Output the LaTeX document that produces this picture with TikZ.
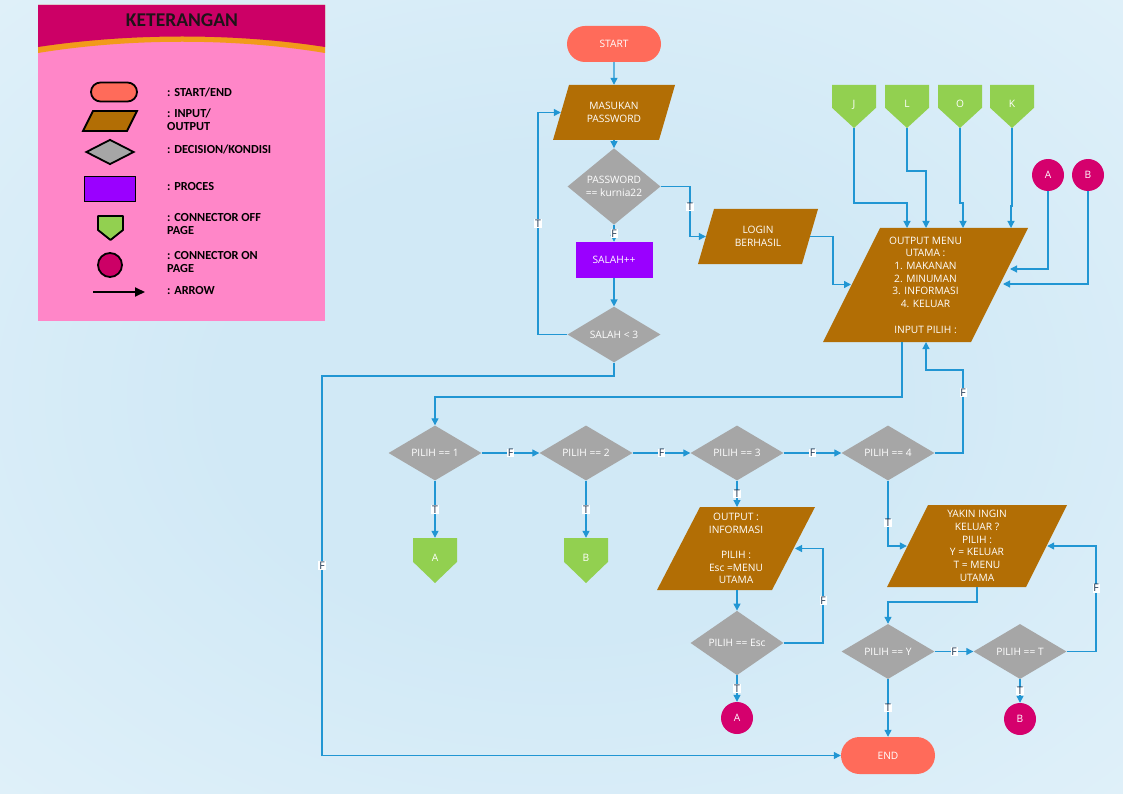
\documentclass[tikz,border=0pt]{standalone}
\usepackage{fontspec}
\setmainfont{Open Sans}
\newfontfamily\legfont{Carlito}
\usetikzlibrary{shapes.geometric,shapes.misc,arrows.meta,calc}

\definecolor{bgin}{HTML}{D1E9F6}
\definecolor{bgout}{HTML}{E9F5FC}
\definecolor{salmon}{HTML}{FF6B5A}
\definecolor{iobrown}{HTML}{B26E05}
\definecolor{grayd}{HTML}{A6A6A6}
\definecolor{purp}{HTML}{9A00FF}
\definecolor{greenc}{HTML}{92D050}
\definecolor{magc}{HTML}{D5006D}
\definecolor{linec}{HTML}{2196D3}
\definecolor{labc}{HTML}{1B3450}
\definecolor{legpink}{HTML}{FF86C8}
\definecolor{leghead}{HTML}{CC0066}
\definecolor{legorange}{HTML}{F29A1A}
\definecolor{legtext}{HTML}{1E1418}

\pgfdeclareradialshading{bgshade}{\pgfpoint{0bp}{0bp}}{%
  color(0bp)=(bgin); color(15bp)=(bgin); color(50bp)=(bgout); color(80bp)=(bgout)}

\newcommand{\mainfs}{\fontsize{10.2}{12.7}\selectfont}
\newcommand{\legfs}{\legfont\bfseries\fontsize{12.3}{13}\selectfont}

\tikzset{
  base/.style={inner sep=0pt, align=center, text=white, font=\mainfs},
  term/.style={base, rounded rectangle, fill=salmon, minimum width=94pt, minimum height=36pt},
  dec/.style={base, diamond, fill=grayd, minimum width=93pt, minimum height=55pt},
  proc/.style={base, rectangle, fill=purp, minimum width=77pt, minimum height=36pt},
  io/.style n args={3}{base, rectangle, minimum width=#1, minimum height=#2,
    path picture={\fill[iobrown]
      ([xshift=#3]path picture bounding box.north west) --
      (path picture bounding box.north east) --
      ([xshift=-#3]path picture bounding box.south east) --
      (path picture bounding box.south west) -- cycle;}},
  offp/.style={base, rectangle, minimum width=44pt, minimum height=44pt,
    path picture={\fill[greenc]
      (path picture bounding box.north west) --
      (path picture bounding box.north east) --
      ($(path picture bounding box.north east)!0.53!(path picture bounding box.south east)$) --
      (path picture bounding box.south) --
      ($(path picture bounding box.north west)!0.53!(path picture bounding box.south west)$) -- cycle;}},
  onp/.style={base, circle, fill=magc, minimum size=32pt},
  flow/.style={draw=linec, line width=1.2pt, -{Triangle[length=7pt,width=7pt]}},
  lab/.style={fill=white, inner xsep=0.8pt, inner ysep=0.6pt, text=labc, font=\fontsize{10.5}{11}\selectfont},
  legitem/.style={draw=black, line width=1.8pt},
  legtxt/.style={anchor=west, align=left, inner sep=0pt, text=black, font=\legfs},
}

\begin{document}
\begin{tikzpicture}[x=1pt,y=-1pt]
% background
\shade[shading=bgshade] (0,0) rectangle (1123,794);
\useasboundingbox (0,0) rectangle (1123,794);

% ---------- legend panel ----------
\fill[legpink] (38,5) rectangle (325,321);
\fill[legorange] (38,5) -- (325,5) -- (325,53) .. controls (235,38) and (130,38) .. (38,53) -- cycle;
\fill[leghead] (38,5) -- (325,5) -- (325,47) .. controls (235,33) and (130,33) .. (38,47) -- cycle;
\node[inner sep=0pt, text=legtext, font=\legfont\bfseries\fontsize{19.5}{20}\selectfont] (legtitle) at (182,20) {KETERANGAN};

\node[legitem, rounded rectangle, fill=salmon, minimum width=46pt, minimum height=19pt, inner sep=0pt] (lterm) at (114,92) {};
\filldraw[legitem, fill=iobrown, line join=miter] (93,111) -- (137,111) -- (127,131) -- (83,131) -- cycle;
\node[legitem, diamond, fill=grayd, minimum width=48pt, minimum height=25pt, inner sep=0pt] (ldec) at (110,152) {};
\node[legitem, rectangle, fill=purp, minimum width=51pt, minimum height=25pt, inner sep=0pt] (lproc) at (110,189) {};
\filldraw[legitem, fill=greenc, line join=round] (98,216) -- (123,216) -- (123,230) -- (110.5,240) -- (98,230) -- cycle;
\node[legitem, circle, fill=leghead, minimum size=24pt, inner sep=0pt] (lonp) at (110,265) {};
\coordinate (larrA) at (93,292);
\coordinate (larrB) at (145,292);
\draw[line width=2pt, -{Triangle[length=10pt,width=9pt]}] (larrA) -- (larrB);

\node[legtxt] (t1) at (167,92) {: START/END};
\node[legtxt] (t2) at (167,120) {: INPUT/\\OUTPUT};
\node[legtxt] (t3) at (167,149) {: DECISION/KONDISI};
\node[legtxt] (t4) at (167,187) {: PROCES};
\node[legtxt] (t5) at (167,224.5) {: CONNECTOR OFF\\PAGE};
\node[legtxt] (t6) at (167,262.5) {: CONNECTOR ON\\PAGE};
\node[legtxt] (t7) at (167,291) {: ARROW};

% ---------- login part ----------
\node[term] (start) at (614,44) {START};
\node[io={122pt}{55pt}{16pt}] (pw) at (614,112.5) {MASUKAN\\PASSWORD};
\node[dec] (dpw) at (614,186.5) {PASSWORD\\== kurnia22};
\node[proc] (salah) at (614,260) {SALAH++};
\node[dec] (dsalah) at (614,334.5) {SALAH < 3};
\node[io={120pt}{55pt}{16pt}] (login) at (758,236.5) {LOGIN\\BERHASIL};

% ---------- main menu ----------
\node[io={205pt}{114pt}{57pt}] (menu) at (925.5,285) {OUTPUT MENU\\UTAMA :\\1. MAKANAN\\2. MINUMAN\\3. INFORMASI\\4. KELUAR\\~\\INPUT PILIH :};
\node[offp, minimum height=43pt] (J) at (854,106.5) {\raisebox{6pt}{J}};
\node[offp, minimum height=43pt] (L) at (907,106.5) {\raisebox{6pt}{L}};
\node[offp, minimum height=43pt] (O) at (960,106.5) {\raisebox{6pt}{O}};
\node[offp, minimum height=43pt] (K) at (1012,106.5) {\raisebox{6pt}{K}};
\node[onp] (cA1) at (1048,175) {A};
\node[onp] (cB1) at (1088,175) {B};

% ---------- choice row ----------
\node[dec] (p1) at (435,453) {PILIH == 1};
\node[dec] (p2) at (586,453) {PILIH == 2};
\node[dec] (p3) at (737,453) {PILIH == 3};
\node[dec] (p4) at (888,453) {PILIH == 4};
\node[offp, minimum height=45pt] (offA) at (435,560.5) {\raisebox{6pt}{A}};
\node[offp, minimum height=45pt] (offB) at (586,560.5) {\raisebox{6pt}{B}};

% ---------- information branch ----------
\node[io={158pt}{83pt}{43pt}] (info) at (736,548.5) {OUTPUT :\\INFORMASI\\~\\PILIH :\\Esc =MENU\\UTAMA};
\node[dec] (desc) at (737,643) {PILIH == Esc};
\node[onp] (cA2) at (737,718) {A};

% ---------- exit branch ----------
\node[io={180pt}{82pt}{41pt}] (yakin) at (977,546) {YAKIN INGIN\\KELUAR ?\\PILIH :\\Y = KELUAR\\T = MENU\\UTAMA};
\node[dec] (dy) at (888,651.5) {PILIH == Y};
\node[dec] (dt) at (1020,651.5) {PILIH == T};
\node[onp] (cB2) at (1020,719) {B};
\node[term, minimum height=37pt] (end) at (888,755.5) {END};

% ---------- connectors: login ----------
\draw[flow] (start) -- (pw);
\draw[flow] (pw) -- (dpw);
\draw[flow] (dpw) -- node[lab]{F} (salah);
\draw[flow] (salah) -- (dsalah);
\draw[flow] (dsalah.west) -- (538,334.5) -- node[lab]{T} (538,112.5) -- ($(pw.west)+(8,0)$);
\draw[flow] (dpw.east) -- (690,186.5) -- node[lab, pos=0.41]{T} (690,236.5) -- ($(login.west)+(8,0)$);
\draw[flow] ($(login.east)+(-8,0)$) -- (833,236.5) -- (833,284.5) -- (851,284.5);
\draw[flow] (dsalah.south) -- (614,376) -- (322,376) -- node[lab]{F} (322,755.5) -- (end.west);

% ---------- connectors: menu ----------
\draw[flow] (J.south) -- (854,203) -- (907,203) -- (907,228);
\draw[flow] (L.south) -- (907,171) -- (926,171) -- (926,228);
\draw[flow] (O.south) -- (960,203) -- (963,203) -- (963,228);
\draw[flow] (K.south) -- (1012,206) -- (1011,206) -- (1011,228);
\draw[flow] (cA1.south) -- (1048,269) -- (1010,269);
\draw[flow] (cB1.south) -- (1088,284) -- (1003,284);
\draw[flow] (902,342) -- (902,397) -- (435,397) -- (p1.north);

% ---------- connectors: choices ----------
\draw[flow] (p1.east) -- node[lab]{F} (p2.west);
\draw[flow] (p2.east) -- node[lab]{F} (p3.west);
\draw[flow] (p3.east) -- node[lab]{F} (p4.west);
\draw[flow] (p4.east) -- (963,453) -- node[lab, pos=0.73]{F} (963,370) -- (926,370) -- (926,342);
\draw[flow] (p1.south) -- node[lab]{T} (offA.north);
\draw[flow] (p2.south) -- node[lab]{T} (offB.north);
\draw[flow] (p3.south) -- node[lab]{T} (737,507);

% ---------- connectors: information ----------
\draw[flow] (737,590) -- (desc.north);
\draw[flow] (desc.east) -- (823,643) -- node[lab, pos=0.45]{F} (823,548.5) -- (795,548.5);
\draw[flow] (desc.south) -- node[lab]{T} (cA2.north);

% ---------- connectors: exit ----------
\draw[flow] (p4.south) -- node[lab, pos=0.65]{T} (888,546) -- ($(yakin.west)+(20,0)$);
\draw[flow] (977,587) -- (977,602) -- (888,602) -- (dy.north);
\draw[flow] (dy.east) -- node[lab]{F} (dt.west);
\draw[flow] (dt.east) -- (1096,651.5) -- node[lab, pos=0.6]{F} (1096,546) -- ($(yakin.east)+(-20,0)$);
\draw[flow] (dt.south) -- node[lab]{T} (cB2.north);
\draw[flow] (dy.south) -- node[lab]{T} (end.north);
\end{tikzpicture}
\end{document}
